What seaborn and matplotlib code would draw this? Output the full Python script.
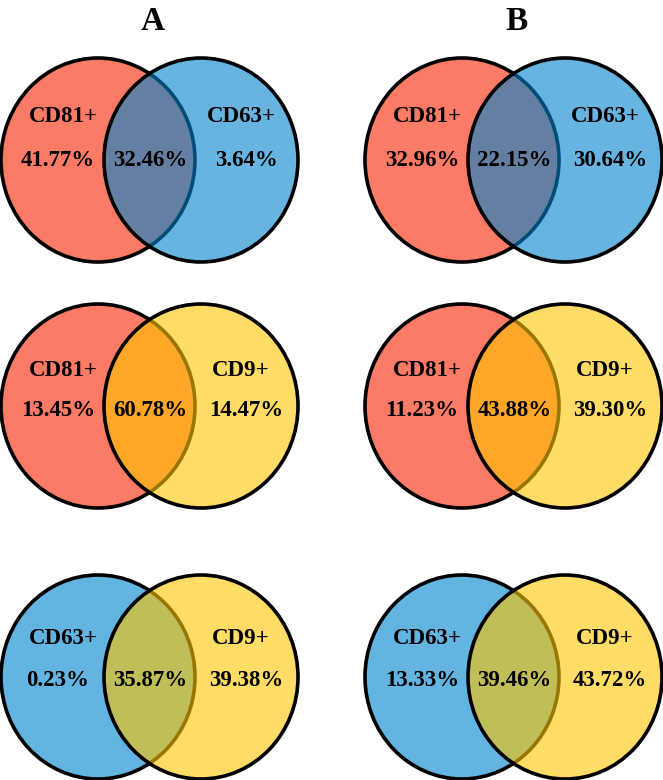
import matplotlib
matplotlib.use("Agg")
import matplotlib.pyplot as plt
from matplotlib.patches import Ellipse
import seaborn as sns

# ---- data ----
panels = ["A", "B"]
left_sets = ["CD81+", "CD81+", "CD63+"]
right_sets = ["CD63+", "CD9+", "CD9+"]
left_only_A = [41.77, 13.45, 0.23]
overlap_A = [32.46, 60.78, 35.87]
right_only_A = [3.64, 14.47, 39.38]
left_only_B = [32.96, 11.23, 13.33]
overlap_B = [22.15, 43.88, 39.46]
right_only_B = [30.64, 39.30, 43.72]

set_colors = {"CD81+": (0.988, 0.482, 0.400, 1.0),
              "CD63+": (0.0, 0.51, 0.796, 0.6),
              "CD9+": (1.0, 0.776, 0.0, 0.6)}
# left circle opaque versions
left_colors = {"CD81+": "#FC7B66", "CD63+": "#63B4E0"}

# ---- layout (pixel coords) ----
W, H = 663, 780
row_cy = [160, 406, 677]
col_lc = [98, 462]
col_rc = [201, 565]
ew, eh = 194, 204
name_dy = [-43, -36, -39]
pct_dy = [0, 4, 3]

sns.set_theme(style="white")
plt.rcParams["font.family"] = ["Liberation Serif", "DejaVu Serif"]

fig = plt.figure(figsize=(W / 100, H / 100), dpi=100)
ax = fig.add_axes([0, 0, 1, 1])
ax.set_xlim(0, W)
ax.set_ylim(H, 0)
ax.axis("off")

data = {"A": (left_only_A, overlap_A, right_only_A),
        "B": (left_only_B, overlap_B, right_only_B)}

tkw = dict(ha="center", va="center", fontsize=16.5, fontweight="bold", color="black", zorder=5)
for c, p in enumerate(panels):
    lo, ov, ro = data[p]
    lc, rc = col_lc[c], col_rc[c]
    mid = (lc + ew / 2 + rc - ew / 2) / 2
    ax.text(mid + 3, 21, p, ha="center", va="center", fontsize=24,
            fontweight="bold", color="black")
    for r in range(3):
        cy = row_cy[r]
        ls, rs = left_sets[r], right_sets[r]
        ax.add_patch(Ellipse((lc, cy), ew, eh, facecolor=left_colors[ls],
                             edgecolor="black", linewidth=2.6, zorder=1))
        ax.add_patch(Ellipse((rc, cy), ew, eh, facecolor=set_colors[rs],
                             edgecolor="black", linewidth=2.6, zorder=2))
        ax.text(lc - 35, cy + name_dy[r], ls, **tkw)
        ax.text(rc + 40, cy + name_dy[r], rs, **tkw)
        ax.text(lc - 40, cy + pct_dy[r], f"{lo[r]:.2f}%", **tkw)
        ax.text(mid + 1, cy + pct_dy[r], f"{ov[r]:.2f}%", **tkw)
        ax.text(rc + 45, cy + pct_dy[r], f"{ro[r]:.2f}%", **tkw)

fig.savefig("out.png", dpi=100, facecolor="white")
